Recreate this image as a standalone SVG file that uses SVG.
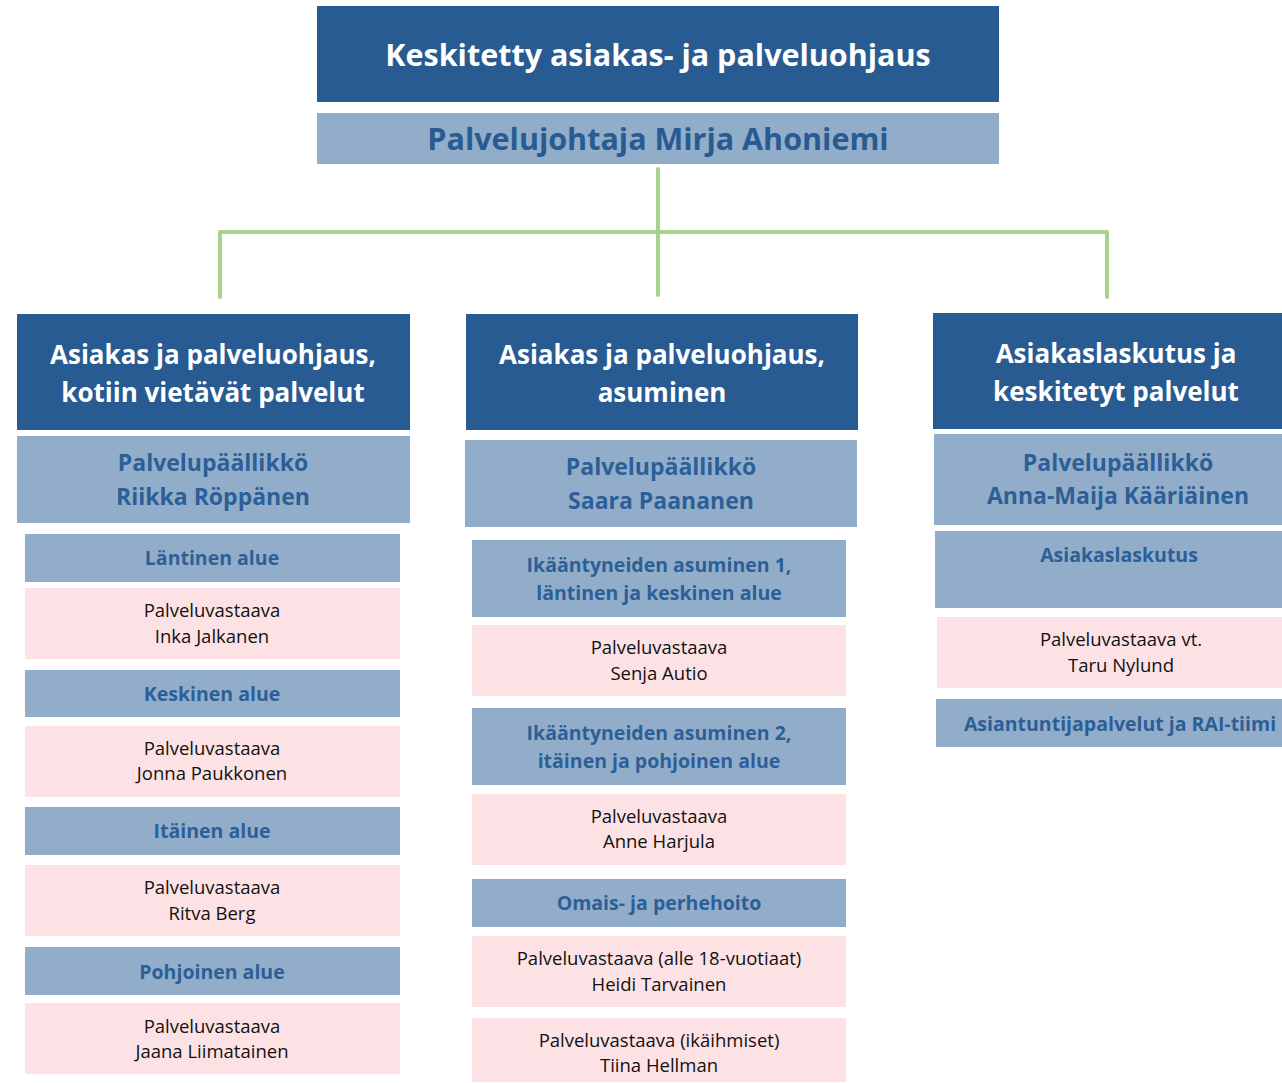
<svg xmlns="http://www.w3.org/2000/svg" width="1282" height="1083" viewBox="0 0 1282 1083">
<style>
.dk{fill:#275b92}
.lb{fill:#92adc9}
.pk{fill:#fde2e5}
text{font-family:"Open Sans","Noto Sans",sans-serif;text-anchor:middle}
.t0{font-size:30.5px;font-weight:bold;fill:#fff}
.t1{font-size:30.5px;font-weight:bold;fill:#275b92}
.th{font-size:26px;font-weight:bold;fill:#fff}
.tm{font-size:23px;font-weight:bold;fill:#2c5f97}
.ts{font-size:19.5px;font-weight:bold;fill:#2c5f97}
.tp{font-size:18.5px;fill:#111}
.con{stroke:#a9d18e;stroke-width:4;fill:none;stroke-linecap:round}
</style>
<g id="connectors">
<path class="con" d="M658 169V295M220 232H1107M220 232V297M1107 232V297"/>
</g>
<g id="top"><rect class="dk" x="317" y="6" width="682" height="96"/><text class="t0" x="658" y="66">Keskitetty asiakas- ja palveluohjaus</text></g>
<g id="director"><rect class="lb" x="317" y="113" width="682" height="51"/><text class="t1" x="658" y="150">Palvelujohtaja Mirja Ahoniemi</text></g>

<g id="col1-head"><rect class="dk" x="17" y="314" width="393" height="116"/><text class="th" x="213" y="364">Asiakas ja palveluohjaus,</text><text class="th" x="213" y="402">kotiin vietävät palvelut</text></g>
<g id="col1-mgr"><rect class="lb" x="17" y="436" width="393" height="87"/><text class="tm" x="213" y="471">Palvelupäällikkö</text><text class="tm" x="213" y="505">Riikka Röppänen</text></g>
<g id="c1-lantinen"><rect class="lb" x="25" y="534" width="375" height="48"/><text class="ts" x="212" y="565">Läntinen alue</text></g>
<g id="c1-inka"><rect class="pk" x="25" y="588" width="375" height="71"/><text class="tp" x="212" y="617">Palveluvastaava</text><text class="tp" x="212" y="643">Inka Jalkanen</text></g>
<g id="c1-keskinen"><rect class="lb" x="25" y="670" width="375" height="47"/><text class="ts" x="212" y="701">Keskinen alue</text></g>
<g id="c1-jonna"><rect class="pk" x="25" y="726" width="375" height="71"/><text class="tp" x="212" y="755">Palveluvastaava</text><text class="tp" x="212" y="780">Jonna Paukkonen</text></g>
<g id="c1-itainen"><rect class="lb" x="25" y="807" width="375" height="48"/><text class="ts" x="212" y="838">Itäinen alue</text></g>
<g id="c1-ritva"><rect class="pk" x="25" y="865" width="375" height="71"/><text class="tp" x="212" y="894">Palveluvastaava</text><text class="tp" x="212" y="920">Ritva Berg</text></g>
<g id="c1-pohjoinen"><rect class="lb" x="25" y="947" width="375" height="48"/><text class="ts" x="212" y="979">Pohjoinen alue</text></g>
<g id="c1-jaana"><rect class="pk" x="25" y="1003" width="375" height="71"/><text class="tp" x="212" y="1033">Palveluvastaava</text><text class="tp" x="212" y="1058">Jaana Liimatainen</text></g>

<g id="col2-head"><rect class="dk" x="466" y="314" width="392" height="116"/><text class="th" x="662" y="364">Asiakas ja palveluohjaus,</text><text class="th" x="662" y="402">asuminen</text></g>
<g id="col2-mgr"><rect class="lb" x="465" y="440" width="392" height="87"/><text class="tm" x="661" y="475">Palvelupäällikkö</text><text class="tm" x="661" y="509">Saara Paananen</text></g>
<g id="c2-ika1"><rect class="lb" x="472" y="540" width="374" height="77"/><text class="ts" x="659" y="572">Ikääntyneiden asuminen 1,</text><text class="ts" x="659" y="600">läntinen ja keskinen alue</text></g>
<g id="c2-senja"><rect class="pk" x="472" y="625" width="374" height="71"/><text class="tp" x="659" y="654">Palveluvastaava</text><text class="tp" x="659" y="680">Senja Autio</text></g>
<g id="c2-ika2"><rect class="lb" x="472" y="708" width="374" height="77"/><text class="ts" x="659" y="740">Ikääntyneiden asuminen 2,</text><text class="ts" x="659" y="768">itäinen ja pohjoinen alue</text></g>
<g id="c2-anne"><rect class="pk" x="472" y="794" width="374" height="71"/><text class="tp" x="659" y="823">Palveluvastaava</text><text class="tp" x="659" y="848">Anne Harjula</text></g>
<g id="c2-omais"><rect class="lb" x="472" y="879" width="374" height="48"/><text class="ts" x="659" y="910">Omais- ja perhehoito</text></g>
<g id="c2-heidi"><rect class="pk" x="472" y="936" width="374" height="71"/><text class="tp" x="659" y="965">Palveluvastaava (alle 18-vuotiaat)</text><text class="tp" x="659" y="991">Heidi Tarvainen</text></g>
<g id="c2-tiina"><rect class="pk" x="472" y="1018" width="374" height="64"/><text class="tp" x="659" y="1047">Palveluvastaava (ikäihmiset)</text><text class="tp" x="659" y="1072">Tiina Hellman</text></g>

<g id="col3-head"><rect class="dk" x="933" y="313" width="349" height="116"/><text class="th" x="1116" y="363">Asiakaslaskutus ja</text><text class="th" x="1116" y="401">keskitetyt palvelut</text></g>
<g id="col3-mgr"><rect class="lb" x="934" y="434" width="348" height="91"/><text class="tm" x="1118" y="471">Palvelupäällikkö</text><text class="tm" x="1118" y="504">Anna-Maija Kääriäinen</text></g>
<g id="c3-laskutus"><rect class="lb" x="935" y="531" width="347" height="77"/><text class="ts" x="1119" y="562">Asiakaslaskutus</text></g>
<g id="c3-taru"><rect class="pk" x="937" y="617" width="345" height="71"/><text class="tp" x="1121" y="646">Palveluvastaava vt.</text><text class="tp" x="1121" y="672">Taru Nylund</text></g>
<g id="c3-asiantuntija"><rect class="lb" x="936" y="699" width="346" height="48"/><text class="ts" x="1120" y="731">Asiantuntijapalvelut ja RAI-tiimi</text></g>
</svg>
